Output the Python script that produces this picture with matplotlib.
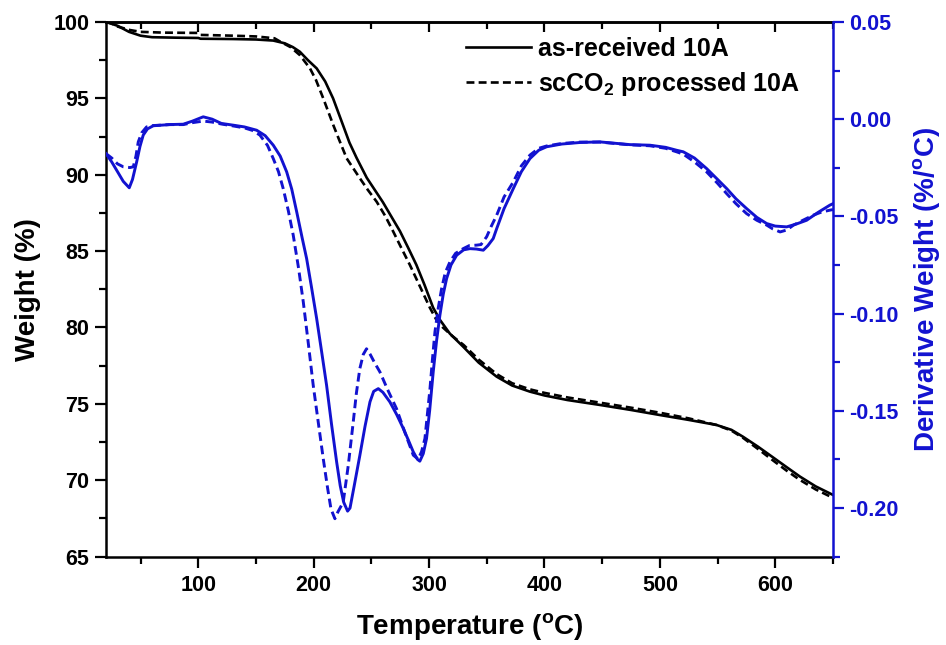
import matplotlib
matplotlib.use("Agg")
import matplotlib.pyplot as plt
from matplotlib.ticker import MultipleLocator

# ---- TGA weight curves (Temperature in degC, Weight in %) ----
temp_w_raw = [20, 30, 40, 50, 60, 80, 100, 102, 130, 150, 165, 175, 182, 188, 195, 202.6, 210,
              216.8, 225.4, 231, 237.2, 246, 253, 260, 267, 274.8, 282, 289, 296, 303.5, 309.4,
              318, 329.6, 343, 358.6, 372, 387.4, 400, 420, 448, 475, 500, 525, 549, 562, 572,
              585, 598, 610, 621.4, 635, 650]
weight_raw = [100.0, 99.75, 99.35, 99.1, 99.0, 98.97, 98.95, 98.9, 98.88, 98.85, 98.78, 98.6,
              98.35, 98.05, 97.5, 96.96, 96.1, 95.0, 93.25, 92.1, 91.1, 89.8, 89.0, 88.2, 87.3,
              86.3, 85.2, 84.1, 82.8, 81.3, 80.5, 79.6, 78.74, 77.7, 76.78, 76.2, 75.8, 75.55,
              75.25, 74.93, 74.6, 74.27, 73.95, 73.62, 73.3, 72.85, 72.2, 71.5, 70.85, 70.24,
              69.6, 69.04]

temp_w_sc = [20, 25, 30, 40.8, 50, 70, 100, 102, 130, 150, 166, 170.8, 180, 188, 196.8, 202,
             208.3, 217, 222, 228.6, 240, 247, 254.6, 262, 269, 276, 283.4, 292, 300.8, 306, 312,
             320, 330, 343, 358.6, 372, 387.4, 400, 420, 448, 475, 500, 525, 549, 562, 572, 585,
             598, 610, 621.4, 635, 650]
weight_sc = [100.0, 99.9, 99.7, 99.47, 99.35, 99.3, 99.28, 99.15, 99.1, 99.05, 98.93, 98.72,
             98.35, 97.83, 96.96, 96.2, 95.0, 93.25, 92.3, 91.07, 89.77, 89.0, 88.23, 87.3, 86.27,
             85.2, 84.09, 82.7, 81.28, 80.55, 80.0, 79.45, 78.85, 77.9, 76.95, 76.35, 75.95, 75.72,
             75.42, 75.08, 74.75, 74.42, 74.05, 73.62, 73.25, 72.78, 72.05, 71.3, 70.62, 70.02,
             69.4, 68.85]

# ---- DTG derivative curves (%/degC) ----
temp_d_raw = [20, 25, 30, 35, 40.2, 43, 46.6, 49.5, 52.3, 56, 61, 75, 87, 95, 104.3, 112, 120,
              130.3, 140, 150.6, 158, 165, 171, 176.6, 181, 185.3, 190, 193.9, 198, 202.6, 207,
              211.2, 215.5, 219.9, 223, 226, 229.4, 231.5, 235, 240, 244.5, 248.8, 252, 256, 260,
              266, 272, 277.6, 282, 286.3, 290, 292, 295, 297.8, 300.5, 303.6, 306.5, 309.4,
              312.3, 315.2, 319, 323.9, 330, 335.4, 341, 347, 351, 355.6, 358.6, 365, 373, 380,
              387.4, 395, 401.9, 415, 430.8, 448, 474, 491.4, 505, 514.5, 520.3, 530, 540.5, 550,
              557.9, 566, 575.2, 584, 592.6, 600, 609.9, 618, 627.2, 637, 647.4, 650]
deriv_raw = [-0.0177, -0.022, -0.027, -0.032, -0.0353, -0.031, -0.022, -0.014, -0.0082, -0.005,
             -0.0034, -0.0028, -0.0026, -0.001, 0.0012, 0.0, -0.0022, -0.0031, -0.004, -0.0057,
             -0.0085, -0.0134, -0.019, -0.0271, -0.036, -0.0477, -0.061, -0.0717, -0.086,
             -0.1026, -0.12, -0.1369, -0.157, -0.1763, -0.1885, -0.197, -0.2016, -0.200, -0.189,
             -0.173, -0.158, -0.1454, -0.140, -0.1386, -0.1405, -0.1454, -0.152, -0.159, -0.165,
             -0.1711, -0.175, -0.1759, -0.172, -0.1643, -0.150, -0.13, -0.114, -0.1008, -0.090,
             -0.0820, -0.075, -0.070, -0.0672, -0.0666, -0.0668, -0.0674, -0.065, -0.0614,
             -0.0563, -0.046, -0.0357, -0.027, -0.0203, -0.016, -0.0142, -0.0128, -0.012,
             -0.0117, -0.0131, -0.0134, -0.0145, -0.016, -0.0168, -0.020, -0.0254, -0.031,
             -0.0357, -0.041, -0.046, -0.0505, -0.0537, -0.055, -0.0554, -0.054, -0.052, -0.048,
             -0.0442, -0.0435]

temp_d_sc = [20, 25, 30, 35, 40.8, 43.7, 46, 48, 51, 55.2, 61, 75, 87, 95, 104.3, 112, 120,
             130.3, 140, 147, 153.4, 160, 165, 169.5, 173.6, 178, 182.3, 187, 191, 195.5, 199.6,
             204, 208.3, 212, 215, 218.4, 221, 225.6, 230, 234.3, 237, 240, 243, 245.8, 249, 253,
             257.4, 264, 271.8, 279, 286.3, 290.6, 293.5, 296.4, 298.5, 300.8, 303, 305.1, 308,
             310.9, 314, 318.1, 323, 329.6, 335, 341.2, 345, 349.9, 354, 358.6, 365, 373, 380,
             387.4, 395, 401.9, 415, 430.8, 448, 474, 491.4, 505, 514.5, 520.3, 530, 540.5, 550,
             557.9, 566, 575.2, 584, 592.6, 598, 604.2, 610, 615.8, 624, 632.9, 640, 647.4, 650]
deriv_sc = [-0.0177, -0.020, -0.023, -0.0245, -0.0249, -0.0245, -0.019, -0.0117, -0.007, -0.004,
            -0.0033, -0.0028, -0.0028, -0.0018, -0.001, -0.0015, -0.0025, -0.0035, -0.0045,
            -0.0058, -0.0082, -0.0135, -0.0203, -0.027, -0.0357, -0.047, -0.0597, -0.077, -0.094,
            -0.116, -0.1368, -0.156, -0.1746, -0.1895, -0.2005, -0.2055, -0.202, -0.197, -0.178,
            -0.1557, -0.141, -0.1283, -0.121, -0.1181, -0.121, -0.1255, -0.130, -0.139, -0.1489,
            -0.161, -0.1728, -0.1749, -0.171, -0.1643, -0.152, -0.1386, -0.123, -0.1094, -0.097,
            -0.0871, -0.079, -0.0734, -0.069, -0.0666, -0.065, -0.0648, -0.0645, -0.0605, -0.055,
            -0.0494, -0.040, -0.0323, -0.024, -0.0185, -0.015, -0.0138, -0.0125, -0.0118,
            -0.0118, -0.0132, -0.0137, -0.015, -0.0168, -0.018, -0.022, -0.0271, -0.033, -0.0383,
            -0.0435, -0.0486, -0.052, -0.0545, -0.0565, -0.058, -0.057, -0.0545, -0.052, -0.0494,
            -0.0478, -0.0468, -0.0465]

labels = ["as-received 10A", r"scCO$_\mathbf{2}$ processed 10A"]

BLUE = "#1212d0"
plt.rcParams["font.family"] = ["Liberation Sans", "DejaVu Sans"]
plt.rcParams["font.weight"] = "bold"
plt.rcParams["mathtext.fontset"] = "custom"
plt.rcParams["mathtext.rm"] = "Liberation Sans:bold"
plt.rcParams["mathtext.bf"] = "Liberation Sans:bold"
plt.rcParams["mathtext.it"] = "Liberation Sans:bold"

fig = plt.figure(figsize=(9.46, 6.45), dpi=100)
ax = fig.add_axes([0.112, 0.137, 0.7685, 0.829])
ax2 = ax.twinx()

l1, = ax.plot(temp_w_raw, weight_raw, color="black", lw=1.9, label=labels[0])
l2, = ax.plot(temp_w_sc, weight_sc, color="black", lw=1.9, ls=(0, (3.0, 1.6)), label=labels[1])
ax2.plot(temp_d_raw, deriv_raw, color=BLUE, lw=2.1)
ax2.plot(temp_d_sc, deriv_sc, color=BLUE, lw=2.1, ls=(0, (3.0, 1.6)))

ax.set_xlim(20, 650)
ax.set_ylim(65, 100)
ax2.set_ylim(-0.225, 0.05)

ax.xaxis.set_major_locator(MultipleLocator(100))
ax.xaxis.set_minor_locator(MultipleLocator(50))
ax.yaxis.set_major_locator(MultipleLocator(5))
ax.yaxis.set_minor_locator(MultipleLocator(2.5))
ax2.yaxis.set_major_locator(MultipleLocator(0.05))
ax2.yaxis.set_minor_locator(MultipleLocator(0.025))
ax2.yaxis.set_major_formatter(plt.FuncFormatter(lambda v, p: f"{v:.2f}".replace("-0.00", "0.00")))

fs_tick = 15.5
ax.tick_params(axis="x", which="both", direction="out", bottom=True, top=False,
               labelsize=fs_tick, width=1.6, pad=5)
ax.tick_params(axis="x", which="major", length=8)
ax.tick_params(axis="x", which="minor", length=5)
ax.tick_params(axis="y", which="both", direction="out", left=True, right=False,
               labelsize=fs_tick, width=1.6, pad=4)
ax.tick_params(axis="y", which="major", length=8)
ax.tick_params(axis="y", which="minor", length=5)
ax2.tick_params(axis="y", which="both", direction="out", colors=BLUE,
                labelsize=fs_tick, width=1.6, pad=4)
ax2.tick_params(axis="y", which="major", length=8)
ax2.tick_params(axis="y", which="minor", length=5)

# inward ticks along the top edge
secx = ax.secondary_xaxis("top")
secx.xaxis.set_major_locator(MultipleLocator(100))
secx.xaxis.set_minor_locator(MultipleLocator(50))
secx.tick_params(axis="x", which="both", direction="in", labeltop=False, width=1.6)
secx.tick_params(axis="x", which="major", length=7)
secx.tick_params(axis="x", which="minor", length=5)
secx.spines["top"].set_linewidth(1.8)

for s in ["left", "bottom", "top"]:
    ax.spines[s].set_linewidth(1.8)
ax.spines["right"].set_visible(False)
for s in ["left", "bottom", "top"]:
    ax2.spines[s].set_visible(False)
ax2.spines["right"].set_color(BLUE)
ax2.spines["right"].set_linewidth(1.8)

for t in ax.get_xticklabels() + ax.get_yticklabels() + ax2.get_yticklabels():
    t.set_fontweight("bold")

ax.set_xlabel(r"Temperature ($^\mathbf{o}$C)", fontsize=20, fontweight="bold", labelpad=11)
ax.set_ylabel("Weight (%)", fontsize=20, fontweight="bold", labelpad=9)
ax2.set_ylabel(r"Derivative Weight (%/$^\mathbf{o}$C)", fontsize=20, fontweight="bold",
               color=BLUE, labelpad=9)

leg = ax.legend(handles=[l1, l2], loc="upper right", frameon=False, fontsize=18,
                handlelength=2.6, handletextpad=0.25, labelspacing=0.35,
                borderaxespad=0.2, bbox_to_anchor=(0.975, 1.0))
for t in leg.get_texts():
    t.set_fontweight("bold")

fig.savefig("out.png", dpi=100)
